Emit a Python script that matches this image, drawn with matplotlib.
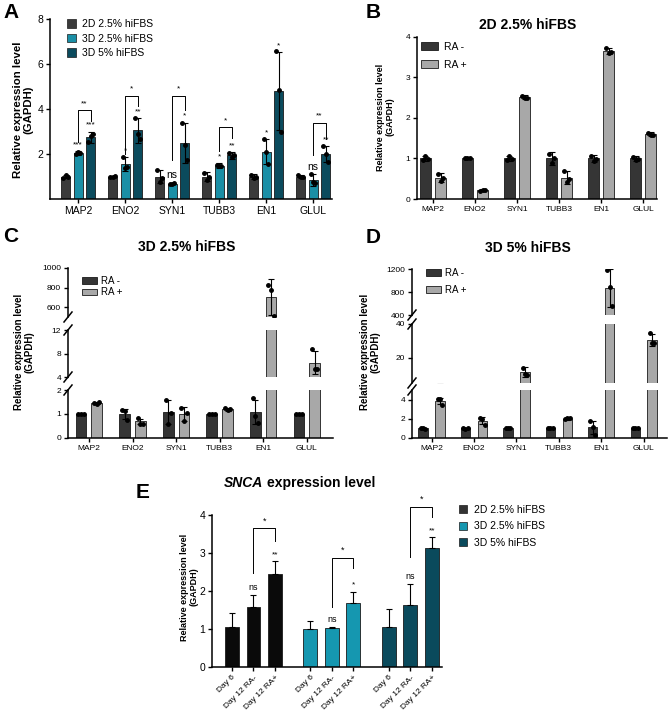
import numpy as np
import matplotlib
matplotlib.use("Agg")
import matplotlib.pyplot as plt
from matplotlib.patches import Patch
from matplotlib.lines import Line2D

plt.rcParams['font.family'] = ['Liberation Sans', 'DejaVu Sans']

# ---------------- data ----------------
genes = ["MAP2", "ENO2", "SYN1", "TUBB3", "EN1", "GLUL"]
cultures = ["2D 2.5% hiFBS", "3D 2.5% hiFBS", "3D 5% hiFBS"]
ra_labels = ["RA -", "RA +"]

# A: relative expression per culture condition
a_2d_mean = [1.0, 1.0, 1.0, 1.0, 1.0, 1.0]
a_2d_sd = [0.08, 0.03, 0.3, 0.2, 0.1, 0.07]
a_2d_pts = [[0.95, 1.08, 1.0], [1.0, 0.98, 1.02], [1.3, 0.75, 0.95],
            [1.15, 0.85, 1.0], [1.08, 0.95, 0.98], [1.05, 0.98, 0.97]]
a_3d25_mean = [2.05, 1.55, 0.68, 1.48, 2.1, 0.85]
a_3d25_sd = [0.08, 0.3, 0.03, 0.1, 0.55, 0.25]
a_3d25_pts = [[2.0, 2.1, 2.05], [1.85, 1.4, 1.42], [0.68, 0.67, 0.69],
              [1.52, 1.45, 1.48], [2.65, 2.1, 1.55], [1.1, 0.75, 0.7]]
a_3d5_mean = [2.75, 3.05, 2.5, 1.95, 4.8, 2.0]
a_3d5_sd = [0.25, 0.55, 0.9, 0.15, 1.75, 0.35]
a_3d5_pts = [[2.55, 2.8, 2.9], [3.6, 2.9, 2.65], [3.4, 2.4, 1.75],
             [2.05, 1.85, 1.95], [6.6, 4.85, 3.0], [2.35, 2.0, 1.65]]
a_sig_3d25 = ["***", "*", "ns", "*", "*", "ns"]
a_sig_3d5 = ["***", "**", "*", "**", "*", "**"]
a_bracket_sig = ["**", "*", "*", "*", "", "**"]
a_bracket_top = [3.95, 4.6, 4.6, 3.2, 0, 3.4]
a_bracket_left = [2.55, 2.0, 1.75, 2.15, 0, 1.95]
a_bracket_right = [3.45, 4.15, 3.95, 2.7, 0, 2.65]

# B: 2D 2.5% hiFBS
b_neg_mean = [1.0, 1.0, 1.0, 1.0, 1.0, 1.0]
b_neg_sd = [0.06, 0.01, 0.06, 0.15, 0.08, 0.06]
b_neg_pts = [[0.97, 1.05, 0.98], [1.0, 1.0, 1.0], [0.97, 1.06, 0.98],
             [1.12, 0.88, 1.0], [1.06, 0.95, 0.99], [1.04, 0.97, 0.99]]
b_pos_mean = [0.53, 0.22, 2.52, 0.53, 3.65, 1.6]
b_pos_sd = [0.1, 0.02, 0.05, 0.15, 0.07, 0.05]
b_pos_pts = [[0.62, 0.45, 0.52], [0.2, 0.23, 0.22], [2.55, 2.5, 2.5],
             [0.68, 0.42, 0.5], [3.72, 3.6, 3.63], [1.64, 1.58, 1.58]]

# C: 3D 2.5% hiFBS
c_neg_mean = [1.0, 1.0, 1.08, 1.0, 1.08, 1.0]
c_neg_sd = [0.01, 0.22, 0.5, 0.02, 0.5, 0.01]
c_neg_pts = [[1.0, 1.0, 1.0], [1.15, 1.12, 0.73], [1.6, 0.58, 1.06],
             [1.0, 1.0, 1.0], [1.65, 0.93, 0.64], [1.0, 1.0, 1.0]]
c_pos_mean = [1.45, 0.69, 1.0, 1.2, 703, 6.45]
c_pos_sd = [0.05, 0.12, 0.3, 0.07, 185, 2.0]
c_pos_pts = [[1.47, 1.42, 1.48], [0.82, 0.6, 0.6], [1.25, 0.72, 1.05],
             [1.25, 1.15, 1.2], [826, 774, 508], [8.7, 5.3, 5.3]]

# D: 3D 5% hiFBS
d_neg_mean = [1.0, 1.0, 1.0, 1.0, 1.1, 1.0]
d_neg_sd = [0.05, 0.08, 0.03, 0.02, 0.7, 0.03]
d_neg_pts = [[1.0, 1.05, 0.97], [1.05, 0.95, 1.0], [1.0, 1.0, 1.0],
             [1.0, 1.0, 1.0], [1.8, 1.15, 0.35], [1.0, 1.0, 1.0]]
d_pos_mean = [3.85, 1.8, 11.4, 2.0, 875, 30.5]
d_pos_sd = [0.3, 0.35, 3.0, 0.1, 330, 3.5]
d_pos_pts = [[4.1, 4.05, 3.4], [2.05, 1.95, 1.4], [14.0, 10.2, 10.0],
             [1.95, 2.05, 2.05], [1190, 880, 555], [34.5, 28.5, 28.5]]

# E: SNCA
e_days = ["Day 6", "Day 12 RA-", "Day 12 RA+"]
e_2d_mean = [1.04, 1.57, 2.46]
e_2d_sd = [0.38, 0.32, 0.32]
e_3d25_mean = [1.0, 1.02, 1.68]
e_3d25_sd = [0.2, 0.02, 0.3]
e_3d5_mean = [1.06, 1.64, 3.13]
e_3d5_sd = [0.46, 0.55, 0.28]
e_sig = [["", "ns", "**"], ["", "ns", "*"], ["", "ns", "**"]]
e_bracket_sig = ["*", "*", "*"]
e_bracket_top = [3.65, 2.88, 4.22]
e_bracket_left = [2.48, 1.58, 2.9]
e_bracket_right = [3.32, 2.6, 3.95]

# ---------------- style ----------------
c_2d = "#3a3a3a"
c_3d25 = "#1a8fa6"
c_3d5 = "#0b4b5d"
e_colors = ["#0a0a0a", "#1597b0", "#0a4a5c"]
c_neg = "#353535"
c_pos = "#a8a8a8"

W, H = 669, 713
fig = plt.figure(figsize=(W / 100, H / 100), dpi=100)


def add_ax(left, top, right, bottom):
    return fig.add_axes([left / W, 1 - bottom / H, (right - left) / W, (bottom - top) / H])


def style(ax, fs):
    for s in ["top", "right"]:
        ax.spines[s].set_visible(False)
    for s in ["left", "bottom"]:
        ax.spines[s].set_linewidth(1.1)
    ax.tick_params(direction="out", length=3, width=1.0, labelsize=fs, pad=2)


def bars(ax, x, mean, sd, pts, color, width, up_only=False, yrange=None):
    yerr = [np.zeros(len(mean)), sd] if up_only else sd
    ax.bar(x, mean, width, color=color, edgecolor="#1a1a1a", linewidth=0.6,
           yerr=yerr, capsize=2.0, zorder=2,
           error_kw=dict(elinewidth=0.8, capthick=0.8, ecolor="k", zorder=3))
    if pts is not None:
        for xi, p in zip(x, pts):
            px = xi + np.array([-1, 0, 1]) * width * 0.25
            p = np.asarray(p, dtype=float)
            if yrange is not None:
                keep = (p >= yrange[0]) & (p <= yrange[1])
                px, p = px[keep], p[keep]
            ax.plot(px, p, "o", color="k", ms=2.5, zorder=4)


def fx(px):
    return px / W


def fy(py):
    return 1 - py / H


def slash(xp, yp):
    fig.add_artist(Line2D([fx(xp - 4), fx(xp + 4)], [fy(yp + 5), fy(yp - 5)],
                          color="k", lw=1.1))


def ylabel(xc, yc, fs):
    fig.text(fx(xc), fy(yc), "Relative expression level\n(GAPDH)", rotation=90,
             ha="center", va="center", fontsize=fs, fontweight="bold",
             multialignment="center", linespacing=1.05)


def letter(xp, yp, s):
    fig.text(fx(xp), fy(yp), s, fontsize=15, fontweight="bold", ha="left", va="center")


x = np.arange(len(genes))

# ---------------- A ----------------
axA = add_ax(50, 19, 332, 199)
style(axA, 7.5)
bars(axA, x - 0.266, a_2d_mean, a_2d_sd, a_2d_pts, c_2d, 0.19)
bars(axA, x, a_3d25_mean, a_3d25_sd, a_3d25_pts, c_3d25, 0.19)
bars(axA, x + 0.266, a_3d5_mean, a_3d5_sd, a_3d5_pts, c_3d5, 0.19)
axA.set_xlim(-0.6, 5.4)
axA.set_ylim(0, 8)
axA.set_yticks([2, 4, 6, 8])
axA.set_xticks(x)
axA.set_xticklabels(genes)
for i in range(len(genes)):
    for xo, m, s, lab in [(0, a_3d25_mean[i], a_3d25_sd[i], a_sig_3d25[i]),
                          (0.266, a_3d5_mean[i], a_3d5_sd[i], a_sig_3d5[i])]:
        fsz = 7.5 if lab == "ns" else 6
        axA.text(i + xo, m + s + 0.12, lab, ha="center", va="bottom", fontsize=fsz)
    if a_bracket_sig[i]:
        xl, xr = i, i + 0.266
        axA.plot([xl, xl, xr, xr], [a_bracket_left[i], a_bracket_top[i], a_bracket_top[i],
                                    a_bracket_right[i]], color="k", lw=0.7)
        axA.text((xl + xr) / 2, a_bracket_top[i] + 0.12, a_bracket_sig[i], ha="center",
                 va="bottom", fontsize=6)
axA.legend(handles=[Patch(facecolor=c, edgecolor="#1a1a1a", lw=0.5, label=l)
                    for c, l in zip([c_2d, c_3d25, c_3d5], cultures)],
           loc="upper left", bbox_to_anchor=(fx(67), fy(19)), bbox_transform=fig.transFigure,
           frameon=False, fontsize=7.5, handlelength=0.9, handleheight=0.9,
           handletextpad=0.5, labelspacing=0.45, borderpad=0, borderaxespad=0)
ylabel(23, 110, 8.2)
letter(3, 12, "A")

# ---------------- B ----------------
axB = add_ax(417, 37, 657, 199)
style(axB, 6)
bars(axB, x - 0.18, b_neg_mean, b_neg_sd, b_neg_pts, c_neg, 0.26)
bars(axB, x + 0.18, b_pos_mean, b_pos_sd, b_pos_pts, c_pos, 0.26)
axB.set_xlim(-0.38, 5.33)
axB.set_ylim(0, 4)
axB.set_yticks([0, 1, 2, 3, 4])
axB.set_xticks(x)
axB.set_xticklabels(genes)
axB.legend(handles=[Patch(facecolor=c, edgecolor="#1a1a1a", lw=0.6, label=l)
                    for c, l in zip([c_neg, c_pos], ra_labels)],
           loc="upper left", bbox_to_anchor=(fx(421), fy(42)), bbox_transform=fig.transFigure,
           frameon=False, fontsize=7.5, handlelength=1.6, handleheight=0.8,
           handletextpad=0.6, labelspacing=0.75, borderpad=0, borderaxespad=0)
fig.text(fx(528), fy(25), "2D 2.5% hiFBS", ha="center", va="center", fontsize=10,
         fontweight="bold")
ylabel(385, 117, 6.5)
letter(366, 12, "B")


# ---------------- C / D (broken axes) ----------------
def broken(left, right, segs, xlim, off, width, neg, pos, legend_top, legend_sp):
    axs = []
    for k, (lo, hi, top, bot, ticks) in enumerate(segs):
        ax = add_ax(left, top, right, bot)
        style(ax, 6)
        bars(ax, x - off, neg[0], neg[1], neg[2], c_neg, width, yrange=(lo, hi))
        bars(ax, x + off, pos[0], pos[1], pos[2], c_pos, width, yrange=(lo, hi))
        ax.set_xlim(*xlim)
        ax.set_ylim(lo, hi)
        ax.set_yticks(ticks)
        if k < len(segs) - 1:
            ax.spines["bottom"].set_visible(False)
            ax.tick_params(bottom=False, labelbottom=False)
            slash(left, bot)
        else:
            ax.set_xticks(x)
            ax.set_xticklabels(genes)
        if k > 0:
            slash(left, top)
        axs.append(ax)
    axs[0].legend(handles=[Patch(facecolor=c, edgecolor="#1a1a1a", lw=0.6, label=l)
                           for c, l in zip([c_neg, c_pos], ra_labels)],
                  loc="upper left", bbox_to_anchor=(fx(left + 14), fy(legend_top)),
                  bbox_transform=fig.transFigure, frameon=False, fontsize=7,
                  handlelength=1.5, handleheight=0.7, handletextpad=0.5,
                  labelspacing=legend_sp, borderpad=0, borderaxespad=0)
    return axs


broken(68, 333,
       [(500, 1000, 268, 317, [600, 800, 1000]),
        (4, 12, 330, 377, [4, 8, 12]),
        (0, 2, 390, 438, [0, 1, 2])],
       (-0.48, 5.6), 0.18, 0.245,
       (c_neg_mean, c_neg_sd, c_neg_pts), (c_pos_mean, c_pos_sd, c_pos_pts), 276, 0.15)
fig.text(fx(187), fy(247), "3D 2.5% hiFBS", ha="center", va="center", fontsize=10,
         fontweight="bold")
ylabel(24, 352, 7)
letter(3, 237, "C")

broken(412, 667,
       [(400, 1200, 269, 315, [400, 800, 1200]),
        (5, 40, 324, 383, [20, 40]),
        (0, 5, 390, 438, [0, 2, 4])],
       (-0.46, 5.55), 0.2, 0.22,
       (d_neg_mean, d_neg_sd, d_neg_pts), (d_pos_mean, d_pos_sd, d_pos_pts), 268, 0.75)
fig.text(fx(528), fy(248), "3D 5% hiFBS", ha="center", va="center", fontsize=10,
         fontweight="bold")
ylabel(370, 352, 7)
letter(366, 238, "D")

# ---------------- E ----------------
axE = add_ax(212, 515, 442, 667)
style(axE, 7.5)
e_pos = []
for g, (mean, sd) in enumerate([(e_2d_mean, e_2d_sd), (e_3d25_mean, e_3d25_sd),
                                (e_3d5_mean, e_3d5_sd)]):
    xs = np.arange(3) + 3.65 * g
    e_pos.extend(xs)
    bars(axE, xs, mean, sd, None, e_colors[g], 0.65, up_only=True)
    for j in range(3):
        if e_sig[g][j]:
            fsz = 6.5 if e_sig[g][j] == "ns" else 6
            axE.text(xs[j], mean[j] + sd[j] + 0.08, e_sig[g][j], ha="center", va="bottom",
                     fontsize=fsz)
    axE.plot([xs[1], xs[1], xs[2], xs[2]],
             [e_bracket_left[g], e_bracket_top[g], e_bracket_top[g], e_bracket_right[g]],
             color="k", lw=0.7, clip_on=False)
    axE.text((xs[1] + xs[2]) / 2, e_bracket_top[g] + 0.08, e_bracket_sig[g], ha="center",
             va="bottom", fontsize=6.5, clip_on=False)
axE.set_xlim(-0.93, 9.77)
axE.set_ylim(0, 4)
axE.set_yticks([0, 1, 2, 3, 4])
axE.set_xticks(e_pos)
axE.set_xticklabels(e_days * 3, rotation=45, ha="right", rotation_mode="anchor", fontsize=6)
axE.legend(handles=[Patch(facecolor=c, edgecolor="#1a1a1a", lw=0.5, label=l)
                    for c, l in zip(["#333333", e_colors[1], e_colors[2]], cultures)],
           loc="upper left", bbox_to_anchor=(fx(459), fy(505)), bbox_transform=fig.transFigure,
           frameon=False, fontsize=7.5, handlelength=0.8, handleheight=0.8,
           handletextpad=0.6, labelspacing=0.6, borderpad=0, borderaxespad=0)
fig.text(fx(263), fy(483), "SNCA", ha="right", va="center", fontsize=10,
         fontweight="bold", fontstyle="italic")
fig.text(fx(267), fy(483), "expression level", ha="left", va="center", fontsize=10,
         fontweight="bold")
ylabel(189, 587, 6.5)
letter(136, 493, "E")

fig.savefig("out.png", dpi=100)
